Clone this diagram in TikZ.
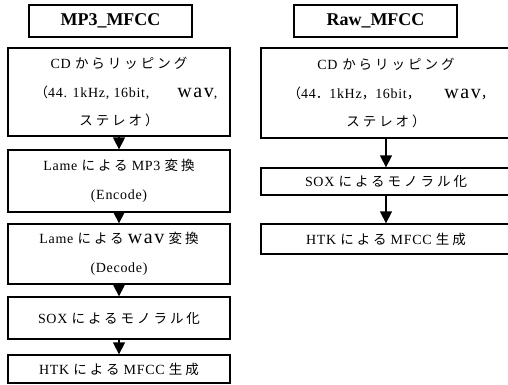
\documentclass[tikz,border=0pt]{standalone}
\usepackage{fontspec}
\setmainfont{Liberation Serif}
\newfontfamily\latfont[LetterSpace=5]{Liberation Serif}
\newfontfamily\wavfont[LetterSpace=8]{Liberation Serif}
\newfontfamily\cjkfont[LetterSpace=22]{Noto Sans CJK JP}
\newcommand\jpt[1]{{\cjkfont\fontsize{13.5}{28.5}\selectfont #1}}
\newcommand\wavw{{\wavfont\fontsize{20}{28.5}\selectfont wav}}
\usetikzlibrary{arrows.meta}
\begin{document}
\begin{tikzpicture}[x=1pt,y=-1pt,
  box/.style={draw,line width=1.3pt,inner sep=0pt,align=center,
    font=\latfont\fontsize{14}{28.5}\selectfont},
  ttl/.style={draw,line width=1.3pt,inner sep=0pt,minimum width=163pt,minimum height=32pt,
    font=\fontsize{18}{20}\selectfont\bfseries},
  arr/.style={line width=1.4pt,-{Triangle[width=12pt,length=12pt]}}]
\useasboundingbox (0,0) rectangle (508,384);
\clip (0,0) rectangle (508,384);
% left column
\node[ttl] (t1) at (110.5,21) {MP3\_MFCC};
\node[box,minimum width=222pt,minimum height=88pt] (a1) at (119,92)
  {CD \jpt{からリッピング}\\\hspace*{14pt}\jpt{（}44. 1kHz, 16bit,\hspace{28pt}\wavw,\\\jpt{ステレオ）}};
\node[box,minimum width=222pt,minimum height=62pt] (a2) at (119,181)
  {Lame \jpt{による} MP3 \jpt{変換}\\(Encode)};
\node[box,minimum width=222pt,minimum height=60pt] (a3) at (119,254)
  {Lame \jpt{による} \wavw{} \jpt{変換}\\(Decode)};
\node[box,minimum width=222pt,minimum height=42pt] (a4) at (119,318)
  {SOX \jpt{によるモノラル化}};
\node[box,minimum width=222pt,minimum height=28pt] (a5) at (119,369)
  {HTK \jpt{による} MFCC \jpt{生成}};
\draw[arr] (a1.south) -- (a2.north);
\draw[arr] (a2.south) -- (a3.north);
\draw[arr] (a3.south) -- (a4.north);
\draw[arr] (a4.south) -- (a5.north);
% right column
\node[ttl] (t2) at (375.5,21) {Raw\_MFCC};
\node[box,minimum width=250pt,minimum height=90pt,text width=250pt] (b1) at (386,93)
  {CD \jpt{からリッピング}\\\hspace*{10pt}\jpt{（}44\jpt{．}1kHz\jpt{，}16bit\jpt{，}\hspace{24pt}\wavw\jpt{，}\\\jpt{ステレオ）}};
\node[box,minimum width=250pt,minimum height=27pt] (b2) at (386,181.5)
  {SOX \jpt{によるモノラル化}};
\node[box,minimum width=250pt,minimum height=30pt] (b3) at (386,239)
  {HTK \jpt{による} MFCC \jpt{生成}};
\draw[arr] (b1.south) -- (b2.north);
\draw[arr] (b2.south) -- (b3.north);
\end{tikzpicture}
\end{document}
